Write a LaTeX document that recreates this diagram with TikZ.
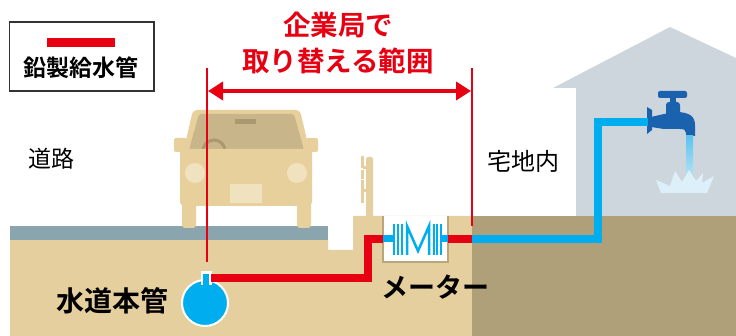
\documentclass[tikz,border=0pt]{standalone}
\usepackage{fontspec}
\newfontfamily\jp{Noto Sans CJK JP}[BoldFont={Noto Sans CJK JP Bold}]
\usetikzlibrary{arrows.meta}

\definecolor{soil}{HTML}{E6CF9E}
\definecolor{soildark}{HTML}{AFA079}
\definecolor{road}{HTML}{8BA5AE}
\definecolor{housegray}{HTML}{CED6DD}
\definecolor{carbody}{HTML}{E8D09D}
\definecolor{carglass}{HTML}{C9B58A}
\definecolor{carlight}{HTML}{F1E2BF}
\definecolor{cardark}{HTML}{A99870}
\definecolor{leadred}{HTML}{E60012}
\definecolor{pipeblue}{HTML}{00AEEF}
\definecolor{tapblue}{HTML}{1A62AE}
\definecolor{stream}{HTML}{5DC3EE}
\definecolor{splash}{HTML}{DDEFF9}
\definecolor{boxedge}{HTML}{BAA67C}

\begin{document}
\begin{tikzpicture}[x=1pt,y=-1pt,
  leadpipe/.style={draw=leadred, line width=8.5pt, line join=miter},
  waterpipe/.style={draw=pipeblue, line width=8.5pt, line join=miter},
  dimline/.style={draw=leadred, line width=2pt},
  boldlabel/.style={font=\jp\bfseries, inner sep=0pt},
  plainlabel/.style={font=\jp, inner sep=0pt},
  meterbar/.style={draw=pipeblue, line width=2pt}]
\useasboundingbox (0,0) rectangle (736,336);

% ---- house ----
\fill[housegray] (553,88) -- (670,27) -- (736,58) -- (736,216) -- (576,216) -- (576,88) -- cycle;

% ---- ground ----
\fill[soil] (10,240) -- (328,240) -- (328,250) -- (353,250) -- (353,216) -- (472,216) -- (472,336) -- (10,336) -- cycle;
\fill[soildark] (472,216) rectangle (736,336);
\fill[road] (10,226) rectangle (328,240);

% ---- post beside the meter ----
\fill[soil, rounded corners=2] (366,157) rectangle (373,218);
\fill[soil] (366,165) rectangle (373,218);
\fill[soil] (361,156) rectangle (364,203);
\fill[white] (361,168.5) rectangle (364,170);
\fill[white] (361,179) rectangle (364,180.5);
\fill[soil] (363,166) rectangle (367,169);
\fill[soil] (363,189) rectangle (367,192);

% ---- car ----
\fill[carbody, rounded corners=4] (193,110) -- (300,110) -- (310,153) -- (183,153) -- cycle;
\fill[carglass, rounded corners=2] (199,114) -- (294,114) -- (304,150) -- (189,150) -- cycle;
\begin{scope}
  \clip (199,114) -- (294,114) -- (304,150) -- (189,150) -- cycle;
  \draw[cardark, line width=3pt] (214,151) circle (11);
\end{scope}
\fill[cardark] (235,119) rectangle (256,124);
\fill[carbody, rounded corners=2] (174,138) rectangle (187,152);
\fill[carbody, rounded corners=2] (306,138) rectangle (318,152);
\fill[carbody, rounded corners=4] (180,149) rectangle (312,206);
\fill[carbody, rounded corners=3] (182,200) rectangle (196,228);
\fill[carbody, rounded corners=3] (297,200) rectangle (311,228);
\fill[carlight] (195,173) circle (10);
\fill[carlight] (297,173) circle (10);
\fill[carlight] (230,184) rectangle (262,203);

% ---- faucet ----
\fill[tapblue, rounded corners=2] (658,91) rectangle (687,98);
\fill[tapblue] (670,96) rectangle (676,104);
\fill[tapblue, rounded corners=3] (666,102) rectangle (680,117);
\fill[tapblue] (647,107) -- (652,110) -- (652,130) -- (647,134) -- cycle;
\fill[tapblue] (651,117) -- (664,114) -- (676,112)
  .. controls (690,112) and (695,117) .. (695,125) -- (695,136) -- (686,136) -- (686,133)
  .. controls (686,130) and (684,129) .. (680,129) -- (664,129) -- (651,127) -- cycle;
\shade[top color=stream, bottom color=stream!45] (686,136) rectangle (693,178);
\fill[splash] (661,193) -- (656,180) -- (670,186) -- (675,171) -- (682,182) -- (689,170)
  -- (696,181) -- (703,173) -- (702,183) -- (714,176) -- (707,193) -- cycle;
\coordinate (tapin) at (648,122);

% ---- meter box ----
\node[fill=white, minimum width=65pt, minimum height=46pt, inner sep=0pt] (meter) at (415.5,239) {};
\draw[boxedge, line width=2pt] (meter.north west) -- (meter.south west) -- (meter.south east) -- (meter.north east);
\draw[draw=pipeblue, line width=7pt] (meter.west) -- (394,239);
\draw[draw=pipeblue, line width=7pt] (441,239) -- (meter.east);
\draw[meterbar] (394,224) -- (394,255);
\draw[meterbar] (398,224) -- (398,255);
\draw[meterbar] (401.5,224) -- (401.5,255);
\draw[meterbar] (433.5,224) -- (433.5,255);
\draw[meterbar] (437,224) -- (437,255);
\draw[meterbar] (441,224) -- (441,255);
\draw[draw=pipeblue, line width=2.5pt, line join=miter] (407,255) -- (407,226) -- (418,251) -- (429,226) -- (429,255);

% ---- water main ----
\node[circle, fill=pipeblue, draw=white, line width=2pt, minimum size=46pt, inner sep=0pt] (main) at (205,303) {};
\fill[white] (200.5,271.5) rectangle (211.5,285);
\fill[pipeblue] (203,274) rectangle (209,290);
\coordinate (neck) at (211,278);
\coordinate (lot) at (472,239);

% ---- pipes ----
\draw[leadpipe] (neck) -| (368,239) -- (meter.west);
\draw[leadpipe] (meter.east) -- (lot);
\draw[waterpipe] (lot) -| (598,122) -- (tapin);

% ---- replacement range ----
\coordinate (rangeL) at (207,68);
\coordinate (rangeR) at (472,68);
\draw[dimline] (rangeL) -- (207,262);
\draw[dimline] (rangeR) -- (472,226);
\draw[draw=leadred, line width=4pt, {Triangle[length=15pt,width=18pt]}-{Triangle[length=15pt,width=18pt]}] (208,91) -- (471,91);
\node[boldlabel, text=leadred, align=center, font=\jp\bfseries\fontsize{27.5}{36}\selectfont] (range) at (338,43) {企業局で\\取り替える範囲};

% ---- legend ----
\draw[black!80, line width=1.3pt] (9.5,22) rectangle (154,91);
\fill[leadred] (47,38) rectangle (115,47);
\node[boldlabel, font=\jp\bfseries\fontsize{23}{23}\selectfont] (legend) at (81,68) {鉛製給水管};

% ---- labels ----
\node[plainlabel, font=\jp\fontsize{23}{23}\selectfont] (roadlbl) at (51,159) {道路};
\node[plainlabel, font=\jp\fontsize{24}{24}\selectfont] (lotlbl) at (523,161) {宅地内};
\node[boldlabel, font=\jp\bfseries\fontsize{28}{28}\selectfont] (mainlbl) at (112,301) {水道本管};
\node[boldlabel, font=\jp\bfseries\fontsize{27}{27}\selectfont] (meterlbl) at (435,287) {メーター};
\end{tikzpicture}
\end{document}
